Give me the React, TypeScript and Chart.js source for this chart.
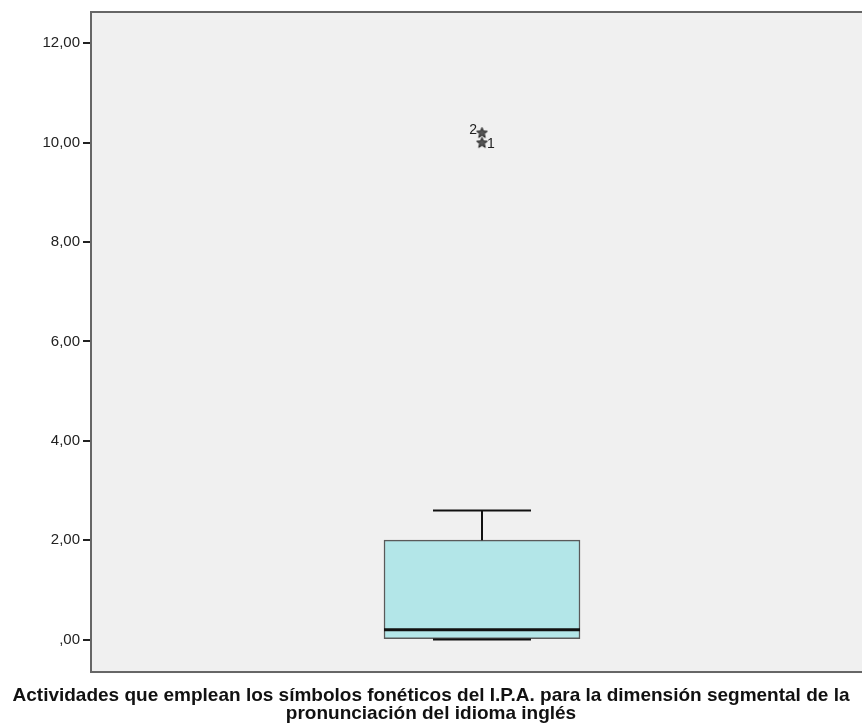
import { useEffect, useRef } from 'react';
import { Chart, registerables } from 'chart.js';

Chart.register(...registerables);

// ---- data ----
const categories = [''];
const whiskerLow = [0];
const q1 = [0];
const median = [0.2];
const q3 = [2.0];
const whiskerHigh = [2.6];
const outlierValues = [10.0, 10.2];
const outlierIds = ['1', '2'];
const outlierLabelSides = ['right', 'left'];
const tickValues = [0, 2, 4, 6, 8, 10, 12];
const tickLabels = [',00', '2,00', '4,00', '6,00', '8,00', '10,00', '12,00'];
const axisTitle = [
  'Actividades que emplean los símbolos fonéticos del I.P.A. para la dimensión segmental de la',
  'pronunciación del idioma inglés',
];

const FONT = "'Liberation Sans', Arial, sans-serif";

function makeStar(): HTMLCanvasElement {
  const c = document.createElement('canvas');
  c.width = 13;
  c.height = 13;
  const ctx = c.getContext('2d')!;
  const cx = 6.5, cy = 6.8, R = 5.6, r = 2.4;
  ctx.beginPath();
  for (let i = 0; i < 10; i++) {
    const ang = -Math.PI / 2 + (i * Math.PI) / 5;
    const rad = i % 2 === 0 ? R : r;
    const x = cx + rad * Math.cos(ang);
    const y = cy + rad * Math.sin(ang);
    if (i === 0) ctx.moveTo(x, y);
    else ctx.lineTo(x, y);
  }
  ctx.closePath();
  ctx.fillStyle = '#555';
  ctx.fill();
  ctx.strokeStyle = '#222';
  ctx.lineWidth = 1;
  ctx.stroke();
  return c;
}

const plotFrame = {
  id: 'plotFrame',
  afterLayout(chart: any) {
    if (chart.titleBlock) {
      chart.titleBlock.left = 0;
      chart.titleBlock.right = 862;
    }
  },
  beforeDatasetsDraw(chart: any) {
    const { ctx, chartArea } = chart;
    const { left, top, right, bottom } = chartArea;
    ctx.save();
    ctx.fillStyle = '#f0f0f0';
    ctx.fillRect(left, top, right - left, bottom - top);
    ctx.strokeStyle = '#666';
    ctx.lineWidth = 2;
    ctx.strokeRect(left, top, right - left, bottom - top);
    ctx.restore();
  },
};

const boxExtras = {
  id: 'boxExtras',
  afterDatasetsDraw(chart: any) {
    const { ctx } = chart;
    const y = chart.scales.y;
    const meta = chart.getDatasetMeta(0);
    ctx.save();
    meta.data.forEach((bar: any, i: number) => {
      const x = bar.x;
      const half = bar.width / 2;
      const capHalf = half / 2;
      const yQ3 = y.getPixelForValue(q3[i]);
      const yQ1 = y.getPixelForValue(q1[i]);
      const yHi = y.getPixelForValue(whiskerHigh[i]);
      const yLo = y.getPixelForValue(whiskerLow[i]);
      const yMed = y.getPixelForValue(median[i]);
      ctx.strokeStyle = '#111';
      ctx.lineWidth = 2;
      ctx.beginPath();
      ctx.moveTo(x, yQ3);
      ctx.lineTo(x, yHi);
      ctx.moveTo(x - capHalf, yHi);
      ctx.lineTo(x + capHalf, yHi);
      ctx.moveTo(x, yQ1);
      ctx.lineTo(x, yLo);
      ctx.moveTo(x - capHalf, yLo);
      ctx.lineTo(x + capHalf, yLo);
      ctx.stroke();
      ctx.lineWidth = 3;
      ctx.beginPath();
      ctx.moveTo(x - half, yMed);
      ctx.lineTo(x + half, yMed);
      ctx.stroke();
    });
    // outlier labels
    const om = chart.getDatasetMeta(1);
    ctx.fillStyle = '#222';
    ctx.font = `14px ${FONT}`;
    ctx.textBaseline = 'middle';
    om.data.forEach((pt: any, j: number) => {
      const side = outlierLabelSides[j];
      if (side === 'left') {
        ctx.textAlign = 'right';
        ctx.fillText(outlierIds[j], pt.x - 5, pt.y - 3);
      } else {
        ctx.textAlign = 'left';
        ctx.fillText(outlierIds[j], pt.x + 5, pt.y + 1);
      }
    });
    ctx.restore();
  },
};

export default function App() {
  const ref = useRef<HTMLCanvasElement | null>(null);
  useEffect(() => {
    if (!ref.current) return;
    const star = makeStar();
    const chart = new Chart(ref.current, {
      type: 'bar',
      data: {
        labels: categories,
        datasets: [
          {
            type: 'bar',
            data: categories.map((_, i) => [q1[i], q3[i]]) as any,
            backgroundColor: '#b3e6e8',
            borderColor: '#5a5a5a',
            borderWidth: 1.5,
            borderSkipped: false,
            barThickness: 196,
            order: 2,
          } as any,
          {
            type: 'line',
            data: outlierValues.map((v) => ({ x: categories[0], y: v })) as any,
            showLine: false,
            pointStyle: star as any,
            pointRadius: 6,
            order: 1,
          } as any,
        ],
      },
      options: {
        animation: false,
        responsive: false,
        devicePixelRatio: 1,
        layout: { padding: { top: 11, right: 7, left: 0, bottom: 0 } },
        plugins: {
          legend: { display: false },
          tooltip: { enabled: false },
          title: {
            display: true,
            position: 'bottom',
            text: axisTitle,
            color: '#111',
            font: { family: FONT, size: 19, weight: 'bold', lineHeight: 0.947 },
            padding: { top: 15, bottom: 0 },
          },
        },
        scales: {
          x: { display: false },
          y: {
            min: -0.653,
            max: 12.63,
            afterBuildTicks: (scale: any) => {
              scale.ticks = tickValues.map((v) => ({ value: v }));
            },
            afterFit: (scale: any) => {
              scale.width = 91;
            },
            ticks: {
              callback: (_v: any, i: number) => tickLabels[i],
              color: '#222',
              font: { family: FONT, size: 15 },
              padding: 3,
            },
            grid: {
              drawOnChartArea: false,
              drawTicks: true,
              tickLength: 8,
              color: '#222',
              lineWidth: 2,
            },
            border: { display: false },
          },
        },
      },
      plugins: [plotFrame, boxExtras],
    });
    return () => chart.destroy();
  }, []);
  return (
    <div
      style={{
        position: 'fixed',
        left: 0,
        top: 0,
        width: 862,
        height: 723,
        overflow: 'hidden',
        background: '#fff',
      }}
    >
      <canvas ref={ref} width={880} height={723} style={{ display: 'block' }} />
    </div>
  );
}
